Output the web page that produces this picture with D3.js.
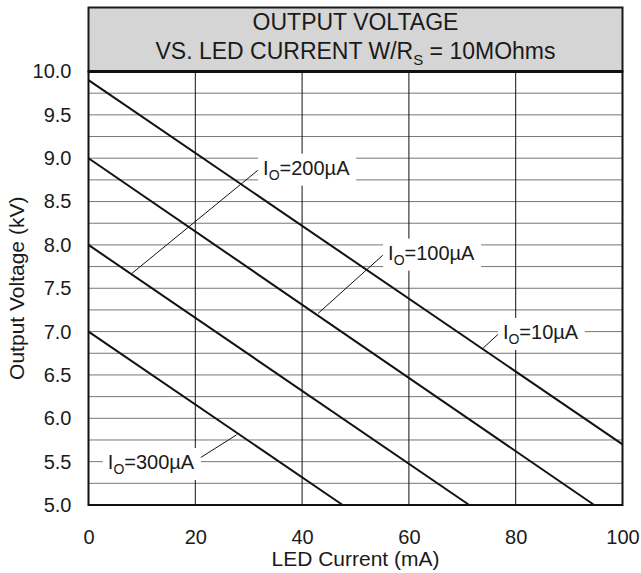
<!DOCTYPE html>
<html>
<head>
<meta charset="utf-8">
<script src="https://cdn.jsdelivr.net/npm/d3@7/dist/d3.min.js"></script>
<style>
  body { margin: 0; background: #fff; }
  text { font-family: 'Liberation Sans', Arial, Helvetica, sans-serif; fill: #1a1a1a; }
</style>
</head>
<body>
<script>
const width = 641;
const height = 573;

// axis ticks
const xTicks = [0, 20, 40, 60, 80, 100];
const yTicks = [5.0, 5.5, 6.0, 6.5, 7.0, 7.5, 8.0, 8.5, 9.0, 9.5, 10.0];
const yGrid = [5.25, 5.5, 5.75, 6.0, 6.25, 6.5, 6.75, 7.0, 7.25, 7.5, 7.75, 8.0, 8.25, 8.5, 8.75, 9.0, 9.25, 9.5, 9.75];

// one straight line per output current, start and end
const series = ['10µA', '100µA', '200µA', '300µA'];
const ledCurrent = [[0, 100], [0, 94.7], [0, 71.3], [0, 47.6]];
const outVoltage = [[9.90, 5.70], [9.00, 5.00], [8.00, 5.00], [7.00, 5.00]];

// call-outs (data units): leader from the curve to the label, label text anchor
const leaderFrom = [[73.9, 6.81], [43.0, 7.21], [8.1, 7.67], [27.75, 5.81]];
const leaderTo = [[76.9, 6.98], [55.1, 7.88], [31.7, 8.86], [20.3, 5.52]];
const labelAt = [[77.6, 6.915], [56.1, 7.83], [32.7, 8.81], [19.8, 5.415]];
const labelAnchor = ['start', 'start', 'start', 'end'];

const x0 = 88.5, x1 = 622.5, y0 = 71.5, y1 = 505;

const x = d3.scaleLinear().domain([0, 100]).range([x0, x1]);
const y = d3.scaleLinear().domain([5, 10]).range([y1, y0]);

const svg = d3.select('body')
  .append('svg')
  .attr('width', width)
  .attr('height', height);

// title box
svg.append('rect')
  .attr('x', x0).attr('y', 7.5)
  .attr('width', x1 - x0).attr('height', y0 - 7.5)
  .style('fill', '#d5d5d5')
  .style('stroke', '#1a1a1a')
  .style('stroke-width', 2);

const title = svg.append('g').attr('class', 'title')
  .attr('text-anchor', 'middle')
  .style('font-size', '23px');
title.append('text')
  .attr('x', (x0 + x1) / 2).attr('y', 30)
  .text('OUTPUT VOLTAGE');
const t2 = title.append('text')
  .attr('x', (x0 + x1) / 2).attr('y', 59);
t2.append('tspan').text('VS. LED CURRENT W/R');
t2.append('tspan').attr('dy', 6).style('font-size', '15px').text('S');
t2.append('tspan').attr('dy', -6).text(' = 10MOhms');

// grid
svg.append('g')
  .selectAll('line')
  .data(yGrid)
  .enter().append('line')
    .attr('x1', x0).attr('x2', x1)
    .attr('y1', d => y(d)).attr('y2', d => y(d))
    .style('stroke', '#777')
    .style('stroke-width', 1);

svg.append('g')
  .selectAll('line')
  .data(xTicks.slice(1, -1))
  .enter().append('line')
    .attr('x1', d => x(d)).attr('x2', d => x(d))
    .attr('y1', y0).attr('y2', y1)
    .style('stroke', '#111')
    .style('stroke-width', 1);

// curves
const line = d3.line().x(d => x(d[0])).y(d => y(d[1]));
svg.append('g')
  .selectAll('path')
  .data(series.map((s, i) => ledCurrent[i].map((c, j) => [c, outVoltage[i][j]])))
  .enter().append('path')
    .attr('d', line)
    .style('fill', 'none')
    .style('stroke', '#111')
    .style('stroke-width', 2);

// call-outs
const notes = svg.append('g').attr('class', 'notes');
series.forEach((s, i) => {
  notes.append('line')
    .attr('x1', x(leaderFrom[i][0])).attr('y1', y(leaderFrom[i][1]))
    .attr('x2', x(leaderTo[i][0])).attr('y2', y(leaderTo[i][1]))
    .style('stroke', '#111')
    .style('stroke-width', 1);
});
series.forEach((s, i) => {
  const g = notes.append('g');
  const box = g.append('rect').style('fill', '#fff');
  const t = g.append('text')
    .attr('x', x(labelAt[i][0])).attr('y', y(labelAt[i][1]))
    .attr('text-anchor', labelAnchor[i])
    .style('font-size', '20px');
  t.append('tspan').text('I');
  t.append('tspan').attr('dy', 5).style('font-size', '14px').text('O');
  t.append('tspan').attr('dy', -5).text('=' + s);
  const b = t.node().getBBox();
  box.attr('x', b.x - 5).attr('y', b.y - 3)
    .attr('width', b.width + 11).attr('height', b.height + 6);
});

// axes
const yAxis = svg.append('g')
  .attr('transform', `translate(${x0},0)`)
  .call(d3.axisLeft(y).tickValues(yTicks).tickFormat(d3.format('.1f')).tickSize(0).tickPadding(17));
const xAxis = svg.append('g')
  .attr('transform', `translate(0,${y1})`)
  .call(d3.axisBottom(x).tickValues(xTicks).tickSize(0).tickPadding(25));
[yAxis, xAxis].forEach(a => {
  a.select('.domain').remove();
  a.selectAll('text').style('font-size', '20px').style('fill', '#1a1a1a')
    .attr('font-family', null);
});
yAxis.attr('font-family', null);
xAxis.attr('font-family', null);

// plot frame
svg.append('rect')
  .attr('x', x0).attr('y', y0)
  .attr('width', x1 - x0).attr('height', y1 - y0)
  .style('fill', 'none')
  .style('stroke', '#111')
  .style('stroke-width', 2);
svg.append('line')
  .attr('x1', x0).attr('x2', x1)
  .attr('y1', y0).attr('y2', y0)
  .style('stroke', '#111')
  .style('stroke-width', 3);

// axis titles
svg.append('text')
  .attr('x', (x0 + x1) / 2).attr('y', 566)
  .attr('text-anchor', 'middle')
  .style('font-size', '21px')
  .text('LED Current (mA)');
svg.append('text')
  .attr('transform', `translate(24,${(y0 + y1) / 2}) rotate(-90)`)
  .attr('text-anchor', 'middle')
  .style('font-size', '21px')
  .text('Output Voltage (kV)');
</script>
</body>
</html>
